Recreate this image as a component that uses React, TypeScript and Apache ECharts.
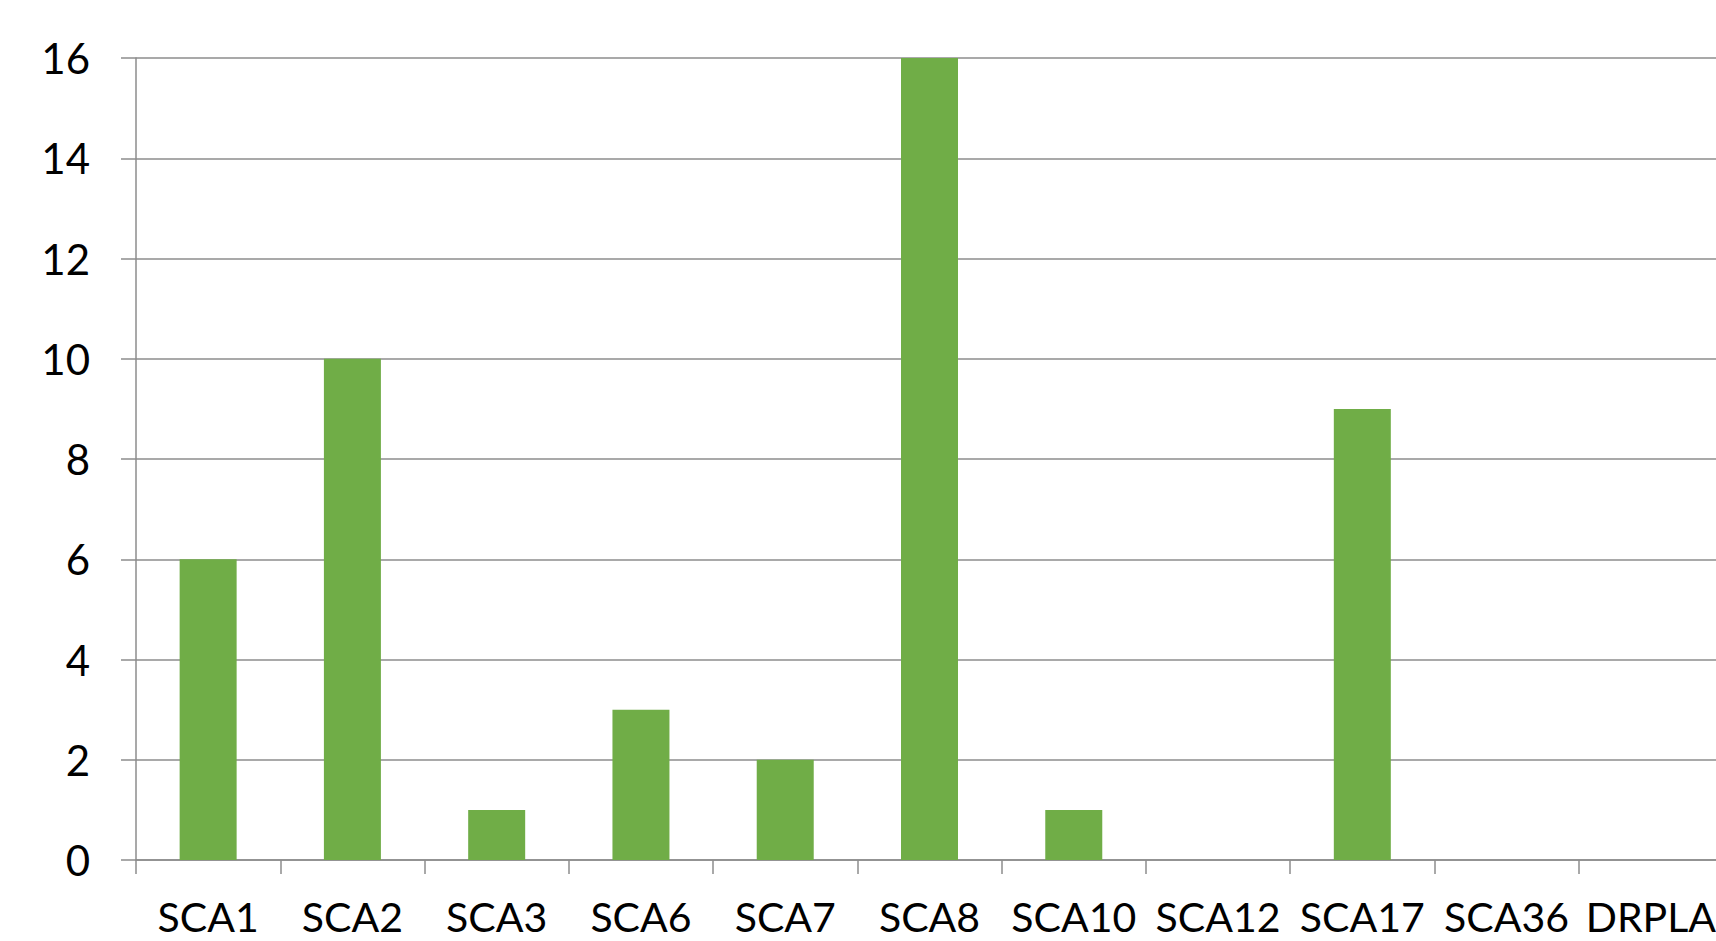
import React, { useEffect, useRef } from "react";
import * as echarts from "echarts";

const categories = ["SCA1", "SCA2", "SCA3", "SCA6", "SCA7", "SCA8", "SCA10", "SCA12", "SCA17", "SCA36", "DRPLA"];
const values = [6, 10, 1, 3, 2, 16, 1, 0, 9, 0, 0];
const yMin = 0;
const yMax = 16;
const yInterval = 2;

export default function App() {
  const ref = useRef<HTMLDivElement>(null);
  useEffect(() => {
    if (!ref.current) return;
    const chart = echarts.init(ref.current, null, { renderer: "svg" });
    const lineColor = "#8c8c8c";
    chart.setOption({
      animation: false,
      backgroundColor: "#ffffff",
      textStyle: { fontFamily: "Lato" },
      grid: { left: 136, top: 58, width: 1587, height: 802 },
      xAxis: {
        type: "category",
        data: categories,
        axisLine: { show: true, lineStyle: { color: lineColor, width: 1.5 } },
        axisTick: { show: true, length: 14, lineStyle: { color: lineColor, width: 1.5 } },
        axisLabel: { color: "#000", fontSize: 41, fontFamily: "Lato", margin: 36, lineHeight: 41, interval: 0 },
        splitLine: { show: false },
      },
      yAxis: {
        type: "value",
        min: yMin,
        max: yMax,
        interval: yInterval,
        axisLine: { show: true, lineStyle: { color: lineColor, width: 1.5 } },
        axisTick: { show: true, length: 15, lineStyle: { color: lineColor, width: 1.5 } },
        axisLabel: { color: "#000", fontSize: 42, fontFamily: "Lato", margin: 46 },
        splitLine: { show: true, lineStyle: { color: lineColor, width: 1.5 } },
      },
      series: [
        {
          type: "bar",
          data: values,
          barWidth: 57,
          itemStyle: { color: "#70AD47" },
        },
      ],
    });
    return () => chart.dispose();
  }, []);
  return (
    <div style={{ position: "fixed", left: 0, top: 0, width: 1716, height: 941, overflow: "hidden", background: "#fff" }}>
      <div ref={ref} style={{ width: 1760, height: 941 }} />
    </div>
  );
}
